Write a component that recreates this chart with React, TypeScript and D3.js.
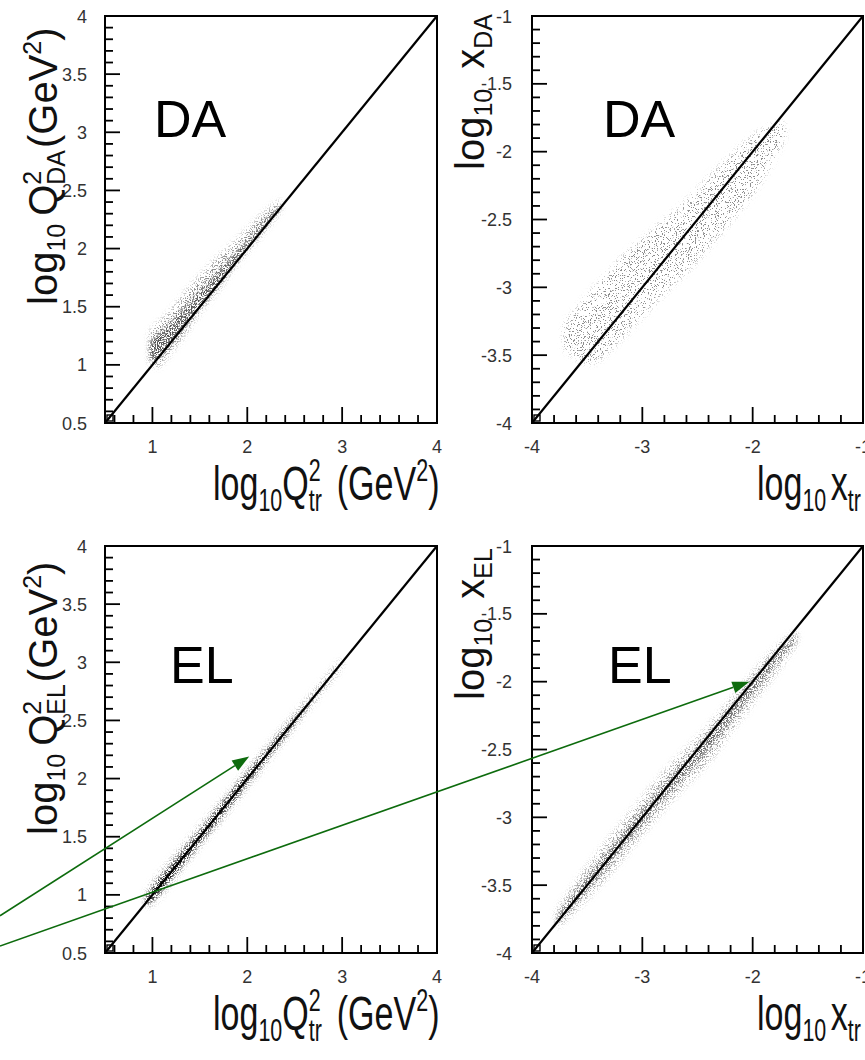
import React from "react";
import * as d3 from "d3";

// ---------- data ----------
const Q2_DOMAIN = [0.5, 4];
const X_DOMAIN = [-4, -1];
const Q2_X_TICKS = [1, 2, 3, 4];
const Q2_Y_TICKS = [0.5, 1, 1.5, 2, 2.5, 3, 3.5, 4];
const X_X_TICKS = [-4, -3, -2, -1];
const X_Y_TICKS = [-1, -1.5, -2, -2.5, -3, -3.5, -4];

// DA, log10 Q2 cloud (x, band low/high, dense core low/high)
const DA_Q2_X = [0.97, 1.05, 1.15, 1.3, 1.5, 1.7, 1.85, 2.0, 2.2, 2.35];
const DA_Q2_HI = [1.27, 1.35, 1.42, 1.57, 1.76, 1.93, 2.04, 2.16, 2.32, 2.42];
const DA_Q2_LO = [1.02, 0.98, 1.07, 1.22, 1.46, 1.66, 1.83, 1.98, 2.18, 2.33];
const DA_Q2_CORE_HI = [1.2, 1.26, 1.33, 1.46, 1.63, 1.81, 1.94, 2.07, 2.26, 2.37];
const DA_Q2_CORE_LO = [1.04, 1.05, 1.13, 1.28, 1.49, 1.69, 1.85, 2.0, 2.2, 2.35];

// DA, log10 x cloud
const DA_X_X = [-3.7, -3.47, -3.17, -2.86, -2.56, -2.26, -1.95, -1.72];
const DA_X_HI = [-3.26, -3.04, -2.77, -2.55, -2.33, -2.08, -1.86, -1.78];
const DA_X_LO = [-3.46, -3.56, -3.36, -3.09, -2.85, -2.57, -2.25, -1.91];
const DA_X_CORE_HI = [-3.32, -3.17, -2.9, -2.66, -2.44, -2.2, -1.97, -1.82];
const DA_X_CORE_LO = [-3.42, -3.42, -3.2, -2.96, -2.72, -2.45, -2.12, -1.87];

// EL, log10 Q2 cloud
const EL_Q2_X = [0.93, 1.0, 1.2, 1.5, 1.8, 2.1, 2.4, 2.7, 3.0];
const EL_Q2_HI = [1.0, 1.1, 1.3, 1.59, 1.88, 2.17, 2.46, 2.74, 3.03];
const EL_Q2_LO = [0.9, 0.92, 1.11, 1.42, 1.72, 2.03, 2.34, 2.66, 2.97];
const EL_Q2_CORE_HI = [0.97, 1.06, 1.26, 1.55, 1.85, 2.14, 2.43, 2.7, 3.0];
const EL_Q2_CORE_LO = [0.92, 0.95, 1.14, 1.45, 1.75, 2.06, 2.37, 2.7, 3.0];

// EL, log10 x cloud
const EL_X_X = [-3.78, -3.6, -3.3, -3.0, -2.7, -2.4, -2.1, -1.85, -1.6];
const EL_X_HI = [-3.7, -3.48, -3.16, -2.86, -2.58, -2.33, -2.04, -1.8, -1.62];
const EL_X_LO = [-3.82, -3.68, -3.42, -3.12, -2.84, -2.59, -2.26, -2.0, -1.72];
const EL_X_CORE_HI = [-3.74, -3.54, -3.24, -2.94, -2.66, -2.39, -2.09, -1.85, -1.65];
const EL_X_CORE_LO = [-3.78, -3.63, -3.35, -3.05, -2.77, -2.5, -2.19, -1.93, -1.68];

// annotation arrows (start in bottom-left panel data coords; tips in target panels)
const ARROW1_FROM = [-0.607, 0.82];
const ARROW1_TO = [2.02, 2.19];
const ARROW2_FROM = [-0.607, 0.56];
const ARROW2_TO = [-2.03, -2.0];

// ---------- layout ----------
const W = 865;
const H = 1060;
const COL_L: [number, number] = [105, 437];
const COL_R: [number, number] = [532, 863];
const ROW_T: [number, number] = [423, 16];
const ROW_B: [number, number] = [953, 546];
const FONT = "'Liberation Sans', Arial, Helvetica, sans-serif";
const GREEN = "#0d6b0d";

type Cloud = {
  x: number[];
  lo: number[];
  hi: number[];
  cLo: number[];
  cHi: number[];
  outer: string;
  core: string;
  outerFilter: string;
  coreFilter: string;
};

type PanelCfg = {
  xr: [number, number];
  yr: [number, number];
  xd: number[];
  yd: number[];
  xTicks: number[];
  yTicks: number[];
  yLabelX: number;
  cloud: Cloud;
  tag: string;
  tagX: number;
  tagY: number;
};

type Seg = { x1: number; y1: number; x2: number; y2: number };

function tickSegs(p: PanelCfg): Seg[] {
  const xs = d3.scaleLinear().domain(p.xd).range(p.xr);
  const ys = d3.scaleLinear().domain(p.yd).range(p.yr);
  const bottom = p.yr[0];
  const left = p.xr[0];
  const out: Seg[] = [];
  const kx0 = Math.round(p.xd[0] * 10);
  const kx1 = Math.round(p.xd[1] * 10);
  for (let k = kx0; k <= kx1; k++) {
    if (Math.abs(k) % 2 !== 0) continue;
    const len = Math.abs(k) % 10 === 0 ? 16 : 8;
    const px = xs(k / 10);
    out.push({ x1: px, y1: bottom, x2: px, y2: bottom - len });
  }
  const ky0 = Math.round(p.yd[0] * 10);
  const ky1 = Math.round(p.yd[1] * 10);
  for (let k = ky0; k <= ky1; k++) {
    const len = Math.abs(k) % 5 === 0 ? 15 : 8;
    const py = ys(k / 10);
    out.push({ x1: left, y1: py, x2: left + len, y2: py });
  }
  return out;
}

function CloudLayer({ p }: { p: PanelCfg }) {
  const xs = d3.scaleLinear().domain(p.xd).range(p.xr);
  const ys = d3.scaleLinear().domain(p.yd).range(p.yr);
  const c = p.cloud;
  const idx = d3.range(c.x.length);
  const outerArea = d3
    .area<number>()
    .x((i) => xs(c.x[i]))
    .y0((i) => ys(c.lo[i]))
    .y1((i) => ys(c.hi[i]))
    .curve(d3.curveCatmullRom);
  const coreArea = d3
    .area<number>()
    .x((i) => xs(c.x[i]))
    .y0((i) => ys(c.cLo[i]))
    .y1((i) => ys(c.cHi[i]))
    .curve(d3.curveCatmullRom);
  return (
    <g>
      <g filter={`url(#${c.outerFilter})`}>
        <path d={outerArea(idx) || ""} fill={c.outer} />
      </g>
      <g filter={`url(#${c.coreFilter})`}>
        <path d={coreArea(idx) || ""} fill={c.core} />
      </g>
    </g>
  );
}

function AxesLayer({ p }: { p: PanelCfg }) {
  const xs = d3.scaleLinear().domain(p.xd).range(p.xr);
  const ys = d3.scaleLinear().domain(p.yd).range(p.yr);
  const bottom = p.yr[0];
  const left = p.xr[0];
  const segs = tickSegs(p);
  return (
    <g>
      <line x1={xs(p.xd[0])} y1={ys(p.yd[0])} x2={xs(p.xd[1])} y2={ys(p.yd[1])} stroke="#000" strokeWidth={2.2} />
      <g stroke="#000" strokeWidth={1.8}>
        {segs.map((s, i) => (
          <line key={"s" + i} x1={s.x1} y1={s.y1} x2={s.x2} y2={s.y2} />
        ))}
      </g>
      <rect x={left + 2} y={bottom - 8} width={6} height={6} fill="none" stroke="#000" strokeWidth={1.4} />
      <rect
        x={p.xr[0]}
        y={p.yr[1]}
        width={p.xr[1] - p.xr[0]}
        height={p.yr[0] - p.yr[1]}
        fill="none"
        stroke="#000"
        strokeWidth={2}
      />
      {p.xTicks.map((v) => (
        <text key={"xl" + v} x={xs(v)} y={bottom + 30} fontSize={18} fontFamily={FONT} fill="#333" textAnchor="middle">
          {String(v)}
        </text>
      ))}
      {p.yTicks.map((v) => (
        <text key={"yl" + v} x={p.yLabelX} y={ys(v) + 6.5} fontSize={18} fontFamily={FONT} fill="#333" textAnchor="end">
          {String(v)}
        </text>
      ))}
      <text x={p.tagX} y={p.tagY} fontSize={52} fontFamily={FONT} fill="#000">
        {p.tag}
      </text>
    </g>
  );
}

function XTitleQ({ x, y }: { x: number; y: number }) {
  return (
    <g transform={`translate(${x},${y}) scale(0.74,1.05)`}>
      <text fontSize={46} fontFamily={FONT} fill="#111">
        <tspan>log</tspan>
        <tspan fontSize={29} dy={10}>10</tspan>
        <tspan dy={-10}>Q</tspan>
        <tspan fontSize={29} dy={-18}>2</tspan>
        <tspan fontSize={29} dx={-16} dy={28}>tr</tspan>
        <tspan dx={20} dy={-10}>(GeV</tspan>
        <tspan fontSize={29} dy={-18}>2</tspan>
        <tspan dy={18}>)</tspan>
      </text>
    </g>
  );
}

function XTitleX({ x, y }: { x: number; y: number }) {
  return (
    <g transform={`translate(${x},${y}) scale(0.74,1.05)`}>
      <text fontSize={46} fontFamily={FONT} fill="#111">
        <tspan>log</tspan>
        <tspan fontSize={29} dy={10}>10</tspan>
        <tspan dx={6} dy={-10}>x</tspan>
        <tspan fontSize={29} dy={10}>tr</tspan>
      </text>
    </g>
  );
}

function YTitleQ({ x, y, sub }: { x: number; y: number; sub: string }) {
  return (
    <g transform={`translate(${x},${y}) rotate(-90)`}>
      <text fontSize={40} fontFamily={FONT} fill="#111">
        <tspan>log</tspan>
        <tspan fontSize={25} dy={8}>10</tspan>
        <tspan dx={8} dy={-8}>Q</tspan>
        <tspan fontSize={25} dy={-16}>2</tspan>
        <tspan fontSize={25} dx={-14} dy={24}>{sub}</tspan>
        <tspan dx={2} dy={-8}>(GeV</tspan>
        <tspan fontSize={25} dy={-16}>2</tspan>
        <tspan dy={16}>)</tspan>
      </text>
    </g>
  );
}

function YTitleX({ x, y, sub }: { x: number; y: number; sub: string }) {
  return (
    <g transform={`translate(${x},${y}) rotate(-90)`}>
      <text fontSize={40} fontFamily={FONT} fill="#111">
        <tspan>log</tspan>
        <tspan fontSize={25} dy={8}>10</tspan>
        <tspan dx={20} dy={-8}>x</tspan>
        <tspan fontSize={25} dy={8}>{sub}</tspan>
      </text>
    </g>
  );
}

function Arrow({ x1, y1, x2, y2 }: { x1: number; y1: number; x2: number; y2: number }) {
  const a = Math.atan2(y2 - y1, x2 - x1);
  const L = 17;
  const hw = 6;
  const bx = x2 - L * Math.cos(a);
  const by = y2 - L * Math.sin(a);
  const pts = [
    [x2, y2],
    [bx + hw * Math.sin(a), by - hw * Math.cos(a)],
    [bx - hw * Math.sin(a), by + hw * Math.cos(a)],
  ]
    .map((q) => q[0].toFixed(2) + "," + q[1].toFixed(2))
    .join(" ");
  return (
    <g>
      <line x1={x1} y1={y1} x2={bx} y2={by} stroke={GREEN} strokeWidth={1.6} />
      <polygon points={pts} fill={GREEN} />
    </g>
  );
}

export default function App() {
  const panels: PanelCfg[] = [
    {
      xr: COL_L, yr: ROW_T, xd: Q2_DOMAIN, yd: Q2_DOMAIN, xTicks: Q2_X_TICKS, yTicks: Q2_Y_TICKS, yLabelX: 87,
      cloud: { x: DA_Q2_X, lo: DA_Q2_LO, hi: DA_Q2_HI, cLo: DA_Q2_CORE_LO, cHi: DA_Q2_CORE_HI, outer: "#8a8a8a", core: "#555", outerFilter: "speckSparse", coreFilter: "speckDense" },
      tag: "DA", tagX: 154, tagY: 137,
    },
    {
      xr: COL_R, yr: ROW_T, xd: X_DOMAIN, yd: X_DOMAIN, xTicks: X_X_TICKS, yTicks: X_Y_TICKS, yLabelX: 512,
      cloud: { x: DA_X_X, lo: DA_X_LO, hi: DA_X_HI, cLo: DA_X_CORE_LO, cHi: DA_X_CORE_HI, outer: "#8c8c8c", core: "#8c8c8c", outerFilter: "speckVery", coreFilter: "speckVery" },
      tag: "DA", tagX: 603, tagY: 137,
    },
    {
      xr: COL_L, yr: ROW_B, xd: Q2_DOMAIN, yd: Q2_DOMAIN, xTicks: Q2_X_TICKS, yTicks: Q2_Y_TICKS, yLabelX: 87,
      cloud: { x: EL_Q2_X, lo: EL_Q2_LO, hi: EL_Q2_HI, cLo: EL_Q2_CORE_LO, cHi: EL_Q2_CORE_HI, outer: "#888", core: "#111", outerFilter: "speckSparse", coreFilter: "speckDense" },
      tag: "EL", tagX: 170, tagY: 683,
    },
    {
      xr: COL_R, yr: ROW_B, xd: X_DOMAIN, yd: X_DOMAIN, xTicks: X_X_TICKS, yTicks: X_Y_TICKS, yLabelX: 512,
      cloud: { x: EL_X_X, lo: EL_X_LO, hi: EL_X_HI, cLo: EL_X_CORE_LO, cHi: EL_X_CORE_HI, outer: "#999", core: "#666", outerFilter: "speckSparse", coreFilter: "speckDense" },
      tag: "EL", tagX: 608, tagY: 683,
    },
  ];

  const blx = d3.scaleLinear().domain(Q2_DOMAIN).range(COL_L);
  const bly = d3.scaleLinear().domain(Q2_DOMAIN).range(ROW_B);
  const brx = d3.scaleLinear().domain(X_DOMAIN).range(COL_R);
  const bry = d3.scaleLinear().domain(X_DOMAIN).range(ROW_B);

  return (
    <div style={{ position: "absolute", left: 0, top: 0, width: W, height: H, background: "#fff" }}>
      {/* cloud layer (filtered), in its own svg */}
      <svg width={W} height={H} style={{ position: "absolute", left: 0, top: 0 }}>
        <defs>
          <filter id="speckSparse" x="-20%" y="-20%" width="140%" height="140%">
            <feGaussianBlur in="SourceGraphic" stdDeviation="3" result="soft" />
            <feTurbulence type="fractalNoise" baseFrequency="0.75" numOctaves="2" seed="5" result="noise" />
            <feColorMatrix in="noise" type="matrix" values="0 0 0 0 0  0 0 0 0 0  0 0 0 0 0  14 0 0 0 -7.6" result="dots" />
            <feComposite in="soft" in2="dots" operator="in" />
          </filter>
          <filter id="speckVery" x="-20%" y="-20%" width="140%" height="140%">
            <feGaussianBlur in="SourceGraphic" stdDeviation="3" result="soft" />
            <feTurbulence type="fractalNoise" baseFrequency="0.85" numOctaves="2" seed="9" result="noise" />
            <feColorMatrix in="noise" type="matrix" values="0 0 0 0 0  0 0 0 0 0  0 0 0 0 0  18 0 0 0 -10.8" result="dots" />
            <feComposite in="soft" in2="dots" operator="in" />
          </filter>
          <filter id="speckDense" x="-20%" y="-20%" width="140%" height="140%">
            <feGaussianBlur in="SourceGraphic" stdDeviation="2" result="soft" />
            <feTurbulence type="fractalNoise" baseFrequency="0.8" numOctaves="2" seed="11" result="noise" />
            <feColorMatrix in="noise" type="matrix" values="0 0 0 0 0  0 0 0 0 0  0 0 0 0 0  10 0 0 0 -4.8" result="dots" />
            <feComposite in="soft" in2="dots" operator="in" />
          </filter>
        </defs>
        {panels.map((p, i) => (
          <CloudLayer key={"c" + i} p={p} />
        ))}
      </svg>

      {/* axes, labels and annotations */}
      <svg width={W} height={H} style={{ position: "absolute", left: 0, top: 0 }}>
        {panels.map((p, i) => (
          <AxesLayer key={"a" + i} p={p} />
        ))}

        <XTitleQ x={213} y={500} />
        <XTitleQ x={213} y={1030} />
        <XTitleX x={757} y={500} />
        <XTitleX x={757} y={1030} />
        <YTitleQ x={57} y={305} sub="DA" />
        <YTitleQ x={57} y={835} sub="EL" />
        <YTitleX x={484} y={170} sub="DA" />
        <YTitleX x={484} y={700} sub="EL" />

        <Arrow x1={blx(ARROW1_FROM[0])} y1={bly(ARROW1_FROM[1])} x2={blx(ARROW1_TO[0])} y2={bly(ARROW1_TO[1])} />
        <Arrow x1={blx(ARROW2_FROM[0])} y1={bly(ARROW2_FROM[1])} x2={brx(ARROW2_TO[0])} y2={bry(ARROW2_TO[1])} />
      </svg>
    </div>
  );
}
